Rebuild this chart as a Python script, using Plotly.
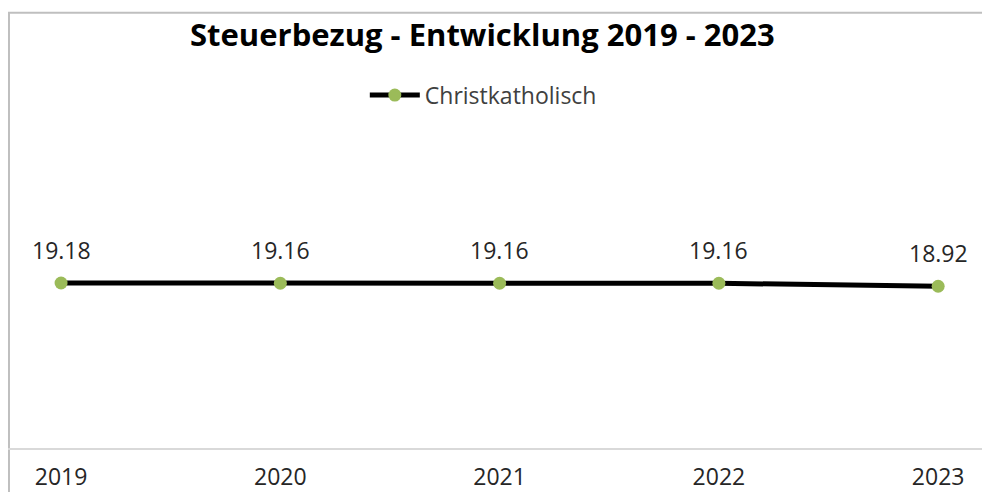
import plotly.graph_objects as go

years = ["2019", "2020", "2021", "2022", "2023"]
values = [19.18, 19.16, 19.16, 19.16, 18.92]
value_labels = ["19.18", "19.16", "19.16", "19.16", "18.92"]
series_name = "Christkatholisch"
title_text = "Steuerbezug - Entwicklung 2019 - 2023"

FONT = "Open Sans"

fig = go.Figure()
fig.add_trace(go.Scatter(
    x=years, y=values, name=series_name, mode="lines+markers",
    line=dict(color="#000000", width=5),
    marker=dict(color="#9BBB59", size=13),
    showlegend=True,
))

for i, (y, t) in enumerate(zip(values, value_labels)):
    fig.add_annotation(x=i, y=y, xref="x", yref="y", text=t, showarrow=False,
                       yshift=33, yanchor="middle",
                       font=dict(family=FONT, size=23, color="#262626"))

# chart border: only left and top edges are visible in the crop
fig.add_shape(type="line", xref="paper", yref="paper",
              x0=0.001, x1=0.001, y0=-0.6, y1=1.288,
              line=dict(color="#BFBFBF", width=2), layer="below")
fig.add_shape(type="line", xref="paper", yref="paper",
              x0=0.0, x1=1.0, y0=1.288, y1=1.288,
              line=dict(color="#BFBFBF", width=2), layer="below")

fig.update_layout(
    width=974, height=484,
    margin=dict(l=0, r=0, t=102, b=42),
    paper_bgcolor="white", plot_bgcolor="white",
    title=dict(text="<b>" + title_text + "</b>", x=0.487, xanchor="center",
               y=1 - 27 / 484, yanchor="middle",
               font=dict(family=FONT, size=31, color="#000000")),
    legend=dict(orientation="h", x=0.488, xanchor="center", y=1.044, yanchor="middle",
                font=dict(family=FONT, size=23, color="#404040"),
                bgcolor="rgba(0,0,0,0)", itemwidth=50),
    xaxis=dict(type="category", range=[-0.242, 4.200], showgrid=False,
               showline=True, linecolor="#D9D9D9", linewidth=2,
               ticks="", tickfont=dict(family=FONT, size=23, color="#262626"),
               ticklabelstandoff=7, zeroline=False),
    yaxis=dict(range=[6, 33], visible=False, showgrid=False, zeroline=False),
)

fig.write_html("out.html", config={"displayModeBar": False})
